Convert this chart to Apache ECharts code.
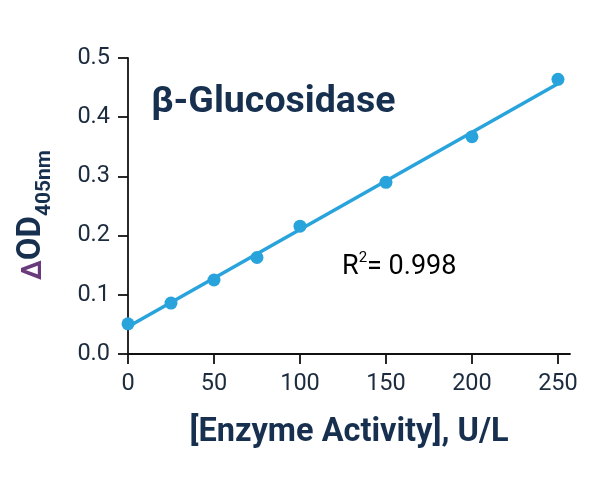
<!DOCTYPE html>
<html>
<head>
<meta charset="utf-8">
<script src="https://cdn.jsdelivr.net/npm/echarts@6/dist/echarts.min.js"></script>
<style>
html,body{margin:0;padding:0;background:#fff;}
#chart{width:600px;height:481px;}
</style>
</head>
<body>
<div id="chart"></div>
<script>
// Data
var activity = [0, 25, 50, 75, 100, 150, 200, 250];          // U/L
var deltaOD  = [0.051, 0.086, 0.125, 0.163, 0.216, 0.290, 0.367, 0.464];
var fitX = [0, 252];
var fitY = [0.046, 0.460];
var xTicks = [0, 50, 100, 150, 200, 250];
var yTicks = [0, 0.1, 0.2, 0.3, 0.4, 0.5];
var titleText = 'β-Glucosidase';
var xTitle = '[Enzyme Activity], U/L';
var r2Text = '0.998';

var navy = '#17304f';
var blue = '#29a3dc';
var font = 'Roboto';
var tickColor = '#1c2b3d';

var chart = echarts.init(document.getElementById('chart'), null, {renderer: 'canvas'});
chart.setOption({
  animation: false,
  backgroundColor: '#ffffff',
  title: {
    text: titleText,
    left: 151, top: 84, padding: 0,
    textStyle: {fontFamily: font, fontSize: 37.5, fontWeight: 'bold', color: navy}
  },
  grid: {left: 128, right: 30, top: 58, bottom: 127, containLabel: false},
  xAxis: {
    type: 'value', min: 0, max: 257,
    name: xTitle, nameLocation: 'middle', nameGap: 62,
    nameTextStyle: {fontFamily: font, fontSize: 32.5, fontWeight: 'bold', color: navy},
    axisLine: {show: true, lineStyle: {color: '#111', width: 1.8}},
    axisTick: {show: true, length: 10, lineStyle: {color: '#111', width: 1.8}, customValues: xTicks},
    axisLabel: {fontFamily: font, fontSize: 23.5, color: tickColor, margin: 18, customValues: xTicks},
    splitLine: {show: false}
  },
  yAxis: {
    type: 'value', min: 0, max: 0.5,
    name: '{d|Δ}{o|OD}{s|405nm}', nameLocation: 'middle', nameGap: 80, nameRotate: 90,
    nameTextStyle: {
      padding: [0, 18, 0, 0],
      rich: {
        d: {fontFamily: font, fontSize: 27, fontWeight: 'bold', color: '#6a3b7c', verticalAlign: 'bottom', lineHeight: 34},
        o: {fontFamily: font, fontSize: 33, fontWeight: 'bold', color: navy, verticalAlign: 'bottom', lineHeight: 34},
        s: {fontFamily: font, fontSize: 21, fontWeight: 'bold', color: navy, verticalAlign: 'bottom', lineHeight: 34, padding: [0,0,-7,0]}
      }
    },
    axisLine: {show: true, lineStyle: {color: '#111', width: 1.8}},
    axisTick: {show: true, length: 10, lineStyle: {color: '#111', width: 1.8}, customValues: yTicks},
    axisLabel: {fontFamily: font, fontSize: 23.5, color: tickColor, margin: 18, customValues: yTicks,
      formatter: function (v) { return v.toFixed(1); }},
    splitLine: {show: false}
  },
  graphic: [{
    type: 'text', left: 342, top: 251,
    style: {
      text: '{r|R}{s|2}{r|= ' + r2Text + '}',
      rich: {
        r: {fontFamily: font, fontSize: 27, color: tickColor, lineHeight: 30, verticalAlign: 'bottom'},
        s: {fontFamily: font, fontSize: 15, color: tickColor, lineHeight: 30, verticalAlign: 'top'}
      }
    }
  }],
  series: [{
    type: 'line',
    data: fitX.map(function (x, i) { return [x, fitY[i]]; }),
    showSymbol: false, symbol: 'none',
    lineStyle: {color: blue, width: 3.5},
    z: 2
  }, {
    type: 'scatter',
    data: activity.map(function (x, i) { return [x, deltaOD[i]]; }),
    symbol: 'circle', symbolSize: 13,
    itemStyle: {color: blue, opacity: 1},
    z: 3
  }]
});
</script>
</body>
</html>
